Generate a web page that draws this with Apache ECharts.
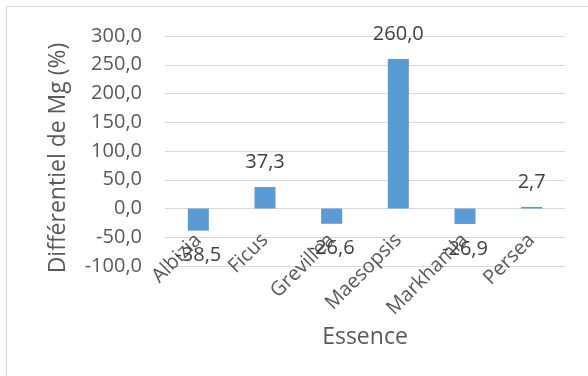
<!DOCTYPE html>
<html>
<head>
<meta charset="utf-8">
<script src="https://cdn.jsdelivr.net/npm/echarts@6/dist/echarts.min.js"></script>
<style>
  html, body { margin: 0; padding: 0; background: #fff; }
  #chart { width: 588px; height: 376px; }
</style>
</head>
<body>
<div id="chart"></div>
<script>
// Magnesium differential per tree species
const essences = ['Albizia', 'Ficus', 'Grevillea', 'Maesopsis', 'Markhamia', 'Persea'];
const differentielMg = [-38.5, 37.3, -26.6, 260.0, -26.9, 2.7];
const yTicks = { min: -100, max: 300, step: 50 };

const fr = v => v.toFixed(1).replace('.', ',');
const FONT = '"Open Sans", sans-serif';
const TXT = '#595959';

const chart = echarts.init(document.getElementById('chart'), null, { renderer: 'canvas' });
chart.setOption({
  animation: false,
  backgroundColor: '#ffffff',
  graphic: [{
    type: 'rect',
    shape: { x: 6.5, y: 6.5, width: 700, height: 500 },
    style: { fill: 'none', stroke: '#d9d9d9', lineWidth: 1 },
    silent: true
  }],
  grid: { left: 165, right: 23, top: 36, bottom: 110, containLabel: false, outerBoundsMode: 'none' },
  xAxis: {
    type: 'category',
    data: essences,
    name: 'Essence',
    nameLocation: 'middle',
    nameGap: 52,
    nameTextStyle: { fontFamily: FONT, fontSize: 23, color: TXT },
    axisLine: { show: false },
    axisTick: { show: false },
    // category names sit just under the zero line
    axisLabel: {
      interval: 0, rotate: 45, margin: -29,
      fontFamily: FONT, fontSize: 20, color: TXT
    }
  },
  yAxis: {
    type: 'value',
    min: yTicks.min, max: yTicks.max, interval: yTicks.step,
    name: 'Différentiel de Mg (%)',
    nameLocation: 'middle',
    nameGap: 95,
    nameTextStyle: { fontFamily: FONT, fontSize: 23, color: TXT, padding: [0, 14, 0, 0] },
    axisLine: { show: false },
    axisTick: { show: false },
    splitLine: { lineStyle: { color: '#d9d9d9', width: 1 } },
    axisLabel: {
      margin: 23, formatter: v => fr(v),
      fontFamily: FONT, fontSize: 20, color: TXT
    }
  },
  series: [{
    type: 'bar',
    barWidth: 21,
    itemStyle: { color: '#5b9bd5' },
    data: differentielMg.map(v => ({
      value: v,
      label: { position: v < 0 ? 'bottom' : 'top' }
    })),
    label: {
      show: true, distance: 15,
      formatter: p => fr(p.value),
      fontFamily: FONT, fontSize: 20, color: '#404040'
    }
  }]
});
</script>
</body>
</html>
